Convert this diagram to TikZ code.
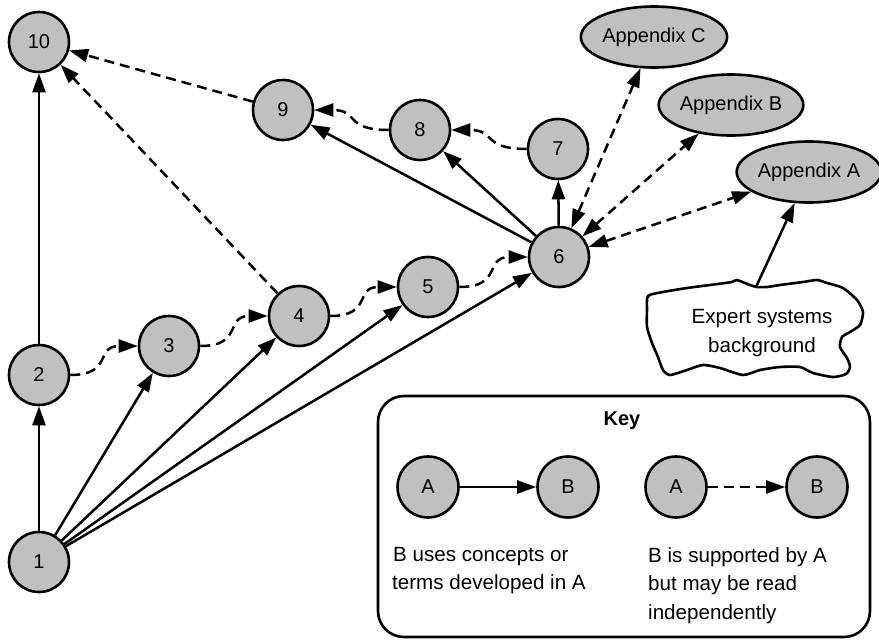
\documentclass[tikz,border=0pt]{standalone}
\usepackage{fontspec}
\setmainfont{Liberation Sans}
\usetikzlibrary{arrows.meta,shapes.geometric}
\definecolor{nodegray}{HTML}{C0C0C0}
\begin{document}
\begin{tikzpicture}[x=1pt,y=-1pt,
  mytip/.tip={Triangle[length=19pt,width=13pt]},
  every node/.style={font=\fontsize{20}{28.5}\selectfont},
  num/.style={circle,draw,fill=nodegray,line width=2.6pt,minimum size=60pt,inner sep=0pt},
  appx/.style={ellipse,draw,fill=nodegray,line width=2.6pt,minimum height=61pt,inner sep=0pt},
  uses/.style={line width=2.5pt,-mytip},
  supp/.style={line width=2.5pt,dash pattern=on 10pt off 6pt,-mytip},
  both/.style={line width=2.5pt,dash pattern=on 10pt off 6pt,mytip-mytip},
  plain/.style={inner sep=0pt,anchor=base west,font=\fontsize{20.6}{28.5}\selectfont}
]
\useasboundingbox (0,0) rectangle (879,640);

% chapter nodes
\node[num] (n10) at (39,42) {10};
\node[num] (n9) at (283,110) {9};
\node[num] (n8) at (420,130) {8};
\node[num] (n7) at (558,149) {7};
\node[num] (n6) at (559,257) {6};
\node[num] (n5) at (428,287) {5};
\node[num] (n4) at (299,316) {4};
\node[num] (n3) at (169,346) {3};
\node[num] (n2) at (39,375) {2};
\node[num] (n1) at (39,562) {1};

% appendices
\node[appx,minimum width=142pt] (appC) at (654,37) {Appendix C};
\node[appx,minimum width=140pt] (appB) at (731,105) {Appendix B};
\node[appx,minimum width=136pt] (appA) at (809,172) {Appendix A};

% cloud
\draw[line width=2.6pt,fill=white] plot[smooth cycle,tension=0.4] coordinates {
 (648,296) (663,292) (687,288) (710,285) (732,282) (737,280) (750,285) (757,287)
 (767,287) (780,285) (803,282) (817,280) (827,283) (843,288) (857,300) (863,312)
 (860,325) (850,332) (842,337) (840,347) (847,358) (850,367) (846,374)
 (833,377) (813,373) (800,367) (780,367) (760,370) (743,375) (720,368) (703,365)
 (687,370) (670,375) (663,370) (658,357) (652,343) (647,327) (647,310)};
\coordinate (cloudtop) at (756,287);
\node[align=center,inner sep=0pt,font=\fontsize{20.6}{28.5}\selectfont] (bg) at (762,333) {Expert systems\\background};

% solid "uses" connectors
\draw[uses] (n1) -- (n2);
\draw[uses] (n1) -- (n3);
\draw[uses] (n1) -- (n4);
\draw[uses] (n1) -- (n5);
\draw[uses] (n1) -- (n6);
\draw[uses] (n2) -- (n10);
\draw[uses] (n6) -- (n7);
\draw[uses] (n6) -- (n8);
\draw[uses] (n6) -- (n9);
\draw[uses] (cloudtop) -- (appA);

% dashed "supported" connectors
\draw[supp] (n2.east) to[out=0,in=180,looseness=1.5] (n3.west);
\draw[supp] (n3.east) to[out=0,in=180,looseness=1.5] (n4.west);
\draw[supp] (n4.east) to[out=0,in=180,looseness=1.5] (n5.west);
\draw[supp] (n5.east) to[out=0,in=180,looseness=1.5] (n6.west);
\draw[supp] (n7.west) to[out=180,in=0,looseness=1.5] (n8.east);
\draw[supp] (n8.west) to[out=180,in=0,looseness=1.5] (n9.east);
\draw[supp] (n9) -- (n10);
\draw[supp] (n4) -- (n10);
\draw[both] (n6) -- (appC);
\draw[both] (n6) -- (appB);
\draw[both] (n6) -- (appA);

% key
\draw[line width=2.6pt,rounded corners=26pt] (378,396) rectangle (870,637);
\node[font=\bfseries\fontsize{20}{24}\selectfont] (keytitle) at (622,421) {Key};
\node[num,minimum size=61pt] (ka1) at (428,487) {A};
\node[num,minimum size=61pt] (kb1) at (568,487) {B};
\node[num,minimum size=61pt] (ka2) at (676,487) {A};
\node[num,minimum size=61pt] (kb2) at (817,487) {B};
\draw[uses] (ka1) -- (kb1);
\draw[supp] (ka2) -- (kb2);
\node[plain] (kl1) at (393,561) {B uses concepts or};
\node[plain] (kl2) at (392,589) {terms developed in A};
\node[plain] (kr1) at (648,562) {B is supported by A};
\node[plain] (kr2) at (648,590) {but may be read};
\node[plain] (kr3) at (648,619) {independently};
\end{tikzpicture}
\end{document}
